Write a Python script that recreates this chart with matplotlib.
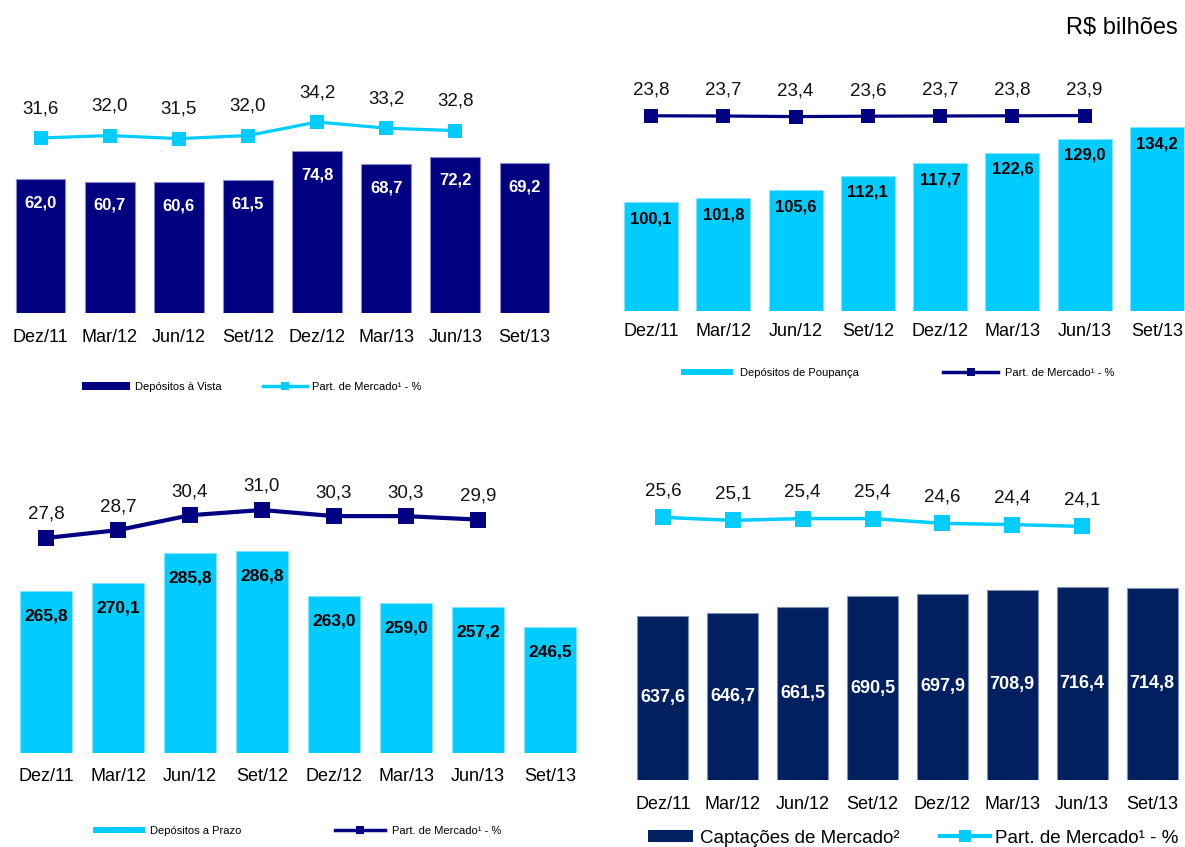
import matplotlib.pyplot as plt
from matplotlib.lines import Line2D
from matplotlib.patches import Patch

plt.rcParams["font.family"] = ["Liberation Sans", "DejaVu Sans"]
NARROW = ["Liberation Sans Narrow", "Liberation Sans", "DejaVu Sans"]

W, H = 1185, 847

periodos = ["Dez/11", "Mar/12", "Jun/12", "Set/12", "Dez/12", "Mar/13", "Jun/13", "Set/13"]

vista = [62.0, 60.7, 60.6, 61.5, 74.8, 68.7, 72.2, 69.2]
vista_part = [31.6, 32.0, 31.5, 32.0, 34.2, 33.2, 32.8]

poupanca = [100.1, 101.8, 105.6, 112.1, 117.7, 122.6, 129.0, 134.2]
poupanca_part = [23.8, 23.7, 23.4, 23.6, 23.7, 23.8, 23.9]

prazo = [265.8, 270.1, 285.8, 286.8, 263.0, 259.0, 257.2, 246.5]
prazo_part = [27.8, 28.7, 30.4, 31.0, 30.3, 30.3, 29.9]

captacoes = [637.6, 646.7, 661.5, 690.5, 697.9, 708.9, 716.4, 714.8]
captacoes_part = [25.6, 25.1, 25.4, 25.4, 24.6, 24.4, 24.1]

NAVY = "#000080"
CYAN = "#00CCFF"
DARK = "#002060"


def fmt(v):
    return f"{v:.1f}".replace(".", ",")


def px_rect(left, top, right, bottom):
    return [left / W, 1 - bottom / H, (right - left) / W, (bottom - top) / H]


def legend_item(fig, handle, text, x, y, size, length_px, gap_px, height_px=None, family=None):
    fs_px = size * 100 / 72
    kw = dict(loc="center left", bbox_to_anchor=(x / W, 1 - y / H), frameon=False,
              borderpad=0, borderaxespad=0, handlelength=length_px / fs_px,
              handletextpad=gap_px / fs_px, prop={"size": size, "family": family or NARROW})
    if height_px is not None:
        kw["handleheight"] = height_px / fs_px
    fig.legend([handle], [text], **kw)


def panel(fig, rect, bars, part, bar_color, edge_color, line_color, bar_ylim, line_ylim,
          width, lbl_color, lbl_size, lbl_off, mid, pct_off, tick_pad, lw, ms, lbl_family=None):
    ax = fig.add_axes(px_rect(*rect))
    x = range(len(bars))
    ax.bar(x, bars, width=width, color=bar_color, edgecolor=edge_color, linewidth=0.8)
    ax.set_xlim(-0.5, len(bars) - 0.5)
    ax.set_ylim(*bar_ylim)
    for i, v in enumerate(bars):
        if mid:
            ax.text(i, (bar_ylim[0] + v) / 2, fmt(v), ha="center", va="center",
                    color=lbl_color, fontsize=lbl_size, fontweight="bold",
                    family=lbl_family or ["Liberation Sans", "DejaVu Sans"])
        else:
            ax.annotate(fmt(v), (i, v), xytext=(0, -lbl_off), textcoords="offset points",
                        ha="center", va="center", color=lbl_color, fontsize=lbl_size,
                        fontweight="bold", annotation_clip=False)
    ax.set_xticks(list(x))
    ax.set_xticklabels(periodos, fontsize=13)
    ax.tick_params(axis="x", length=0, pad=tick_pad)
    ax.set_yticks([])
    for s in ax.spines.values():
        s.set_visible(False)

    ax2 = ax.twinx()
    xs = range(len(part))
    ax2.plot(xs, part, color=line_color, lw=lw, marker="s", markersize=ms,
             markeredgewidth=0, solid_joinstyle="miter")
    ax2.set_ylim(*line_ylim)
    ax2.set_yticks([])
    for s in ax2.spines.values():
        s.set_visible(False)
    for i, v in enumerate(part):
        ax2.annotate(fmt(v), (i, v), xytext=(0, pct_off), textcoords="offset points",
                     ha="center", va="center", fontsize=13.5, color="#111111")
    return ax


fig = plt.figure(figsize=(W / 100, H / 100), dpi=100)

# top left - depositos a vista
panel(fig, (6, 60, 559, 313), vista, vista_part, NAVY, "#8a8ac8", CYAN,
      (0, 117), (3.1, 44.3), 0.72, "white", 12, 17, False, 21, 11.5, 2.3, 10)
legend_item(fig, Patch(facecolor=NAVY), "Depósitos à Vista", 82, 387, 8, 48, 5, 8)
legend_item(fig, Line2D([], [], color=CYAN, lw=2.5, marker="s", markersize=6, markeredgewidth=0),
            "Part. de Mercado¹ - %", 263, 387, 8, 44, 5)

# top right - poupanca
panel(fig, (615, 60, 1193, 311), poupanca, poupanca_part, CYAN, "#80e6ff", NAVY,
      (50.6, 164.7), (-73.8, 51.7), 0.75, "black", 12, 12, False, 18.5, 8.8, 2.3, 10)
legend_item(fig, Patch(facecolor=CYAN), "Depósitos de Poupança", 681, 373, 8, 52, 7, 5)
legend_item(fig, Line2D([], [], color=NAVY, lw=2.5, marker="s", markersize=6, markeredgewidth=0),
            "Part. de Mercado¹ - %", 943, 373, 8, 55, 7)

# bottom left - depositos a prazo
panel(fig, (10, 470, 586, 753), prazo, prazo_part, CYAN, "#80e6ff", NAVY,
      (179.7, 329.8), (3.23, 35.57), 0.72, "black", 12.5, 18, False, 17, 11, 3, 11.5)
legend_item(fig, Patch(facecolor=CYAN), "Depósitos a Prazo", 93, 831, 8, 52, 5, 5)
legend_item(fig, Line2D([], [], color=NAVY, lw=2.5, marker="s", markersize=6, markeredgewidth=0),
            "Part. de Mercado¹ - %", 335, 831, 8, 50, 7)

# bottom right - captacoes de mercado
panel(fig, (628, 470, 1187, 780), captacoes, captacoes_part, DARK, "#8090b0", CYAN,
      (192, 1034), (-18.2, 33.5), 0.73, "white", 13, 0, True, 19, 11.5, 2.5, 11,
      lbl_family=NARROW)
legend_item(fig, Patch(facecolor=DARK), "Captações de Mercado²", 648, 838, 13.5, 45, 7, 12,
            family=["Liberation Sans", "DejaVu Sans"])
legend_item(fig, Line2D([], [], color=CYAN, lw=3, marker="s", markersize=9, markeredgewidth=0),
            "Part. de Mercado¹ - %", 940, 838, 13.5, 50, 5,
            family=["Liberation Sans", "DejaVu Sans"])

fig.text(1178 / W, 1 - 28 / H, "R$ bilhões", ha="right", va="center", fontsize=17)

fig.savefig("out.png", dpi=100)
